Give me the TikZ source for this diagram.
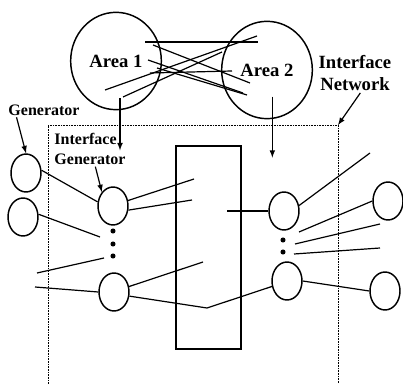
\documentclass[tikz,border=0pt]{standalone}
\usepackage{fontspec}
\setmainfont{Liberation Serif}
\usetikzlibrary{shapes.geometric}
\begin{document}
\begin{tikzpicture}[x=0.75pt,y=-0.75pt,line width=0.9pt,
	area/.style={draw, line width=1.1pt, ellipse, minimum width=68pt, minimum height=73pt, inner sep=0pt, font=\bfseries\fontsize{14}{16}\selectfont},
	gen/.style={draw, line width=1.1pt, ellipse, minimum width=22.5pt, minimum height=28.5pt, inner sep=0pt},
	lbl/.style={font=\bfseries\fontsize{12}{15}\selectfont, inner sep=1pt}]
\useasboundingbox (0,0) rectangle (403,384);

% areas and tie lines
\node[area] (a1) at (116,61) {Area 1};
\node[area] (a2) at (267,70) {Area 2};
\foreach \i/\xa/\ya/\xb/\yb in {1/145/42/258/42, 2/153/45/250/83, 3/148/60/243/93, 4/105/90/257/36, 5/123/97/222/52, 6/150/73/232/71, 7/157/68/247/95}
{
	\coordinate (t\i a) at (\xa,\ya);
	\coordinate (t\i b) at (\xb,\yb);
	\draw (t\i a) -- (t\i b);
}

% interface network
\coordinate (netc) at (338,125);
\draw[line width=0.6pt, dash pattern=on 0.6pt off 0.6pt] (48,384) |- (netc) -- (338,384);
\node[draw, line width=1.1pt, minimum width=48.75pt, minimum height=152.25pt, inner sep=0pt] (bus) at (208.5,247.5) {};

\foreach \n/\x/\y in {g1/26/173, g2/23/217, i1/113/206, i2/114/292, r1/284/211, r2/287/281, o1/388/201, o2/385/291}
	\node[gen] (\n) at (\x,\y) {};
\foreach \y in {231,244,256}
	\fill (113,\y) circle (1.9pt);
\foreach \y in {240,252}
	\fill (283,\y) circle (1.9pt);

% labels
\node[lbl] (genlbl) at (44,110) {Generator};
\node[lbl, align=left] (iglbl) at (90,149) {Interface\\Generator};
\node[lbl, align=center, font=\bfseries\fontsize{14}{17}\selectfont] (netlbl) at (355,73) {Interface\\Network};

\draw[-latex] ([xshift=7.5pt]genlbl.south west) -- (g1.north);
\draw[-latex] ([xshift=4pt]iglbl.south) -- (i1.north west);
\draw[-latex] ([xshift=3pt,yshift=-28pt]a1.center) -- ++(0,52);
\draw[-latex] ([xshift=4pt,yshift=-20pt]a2.center) -- ++(0,61);
\draw[-latex] ([xshift=4pt]netlbl.south) -- (netc);

% branches
\foreach \n/\x/\y in {d1/100/237, f1/37/273, f2/104/258, f3/35/287, b1/194/179, b2/192/200, b3/203/262, bj/207/308, b4/227/211, e1/370/153, e2/299/232, e3/295/244, e4/380/224, e5/294/254, e6/380/248}
	\coordinate (\n) at (\x,\y);

\draw (g1.10) -- (i1.165);
\draw (g2.10) -- (d1);
\draw (f1) -- (f2);
\draw (f3) -- (i2.west);
\draw (i1.20) -- (b1);
\draw (i1.-15) -- (b2);
\draw (i2.20) -- (b3);
\draw (i2.-15) -- (bj) -- (r2.200);
\draw (b4) -- (r1.west);
\draw (r1.20) -- (e1);
\draw (e2) -- (o1.west);
\draw (e3) -- (e4);
\draw (e5) -- (e6);
\draw (r2.east) -- (o2.west);
\end{tikzpicture}
\end{document}
